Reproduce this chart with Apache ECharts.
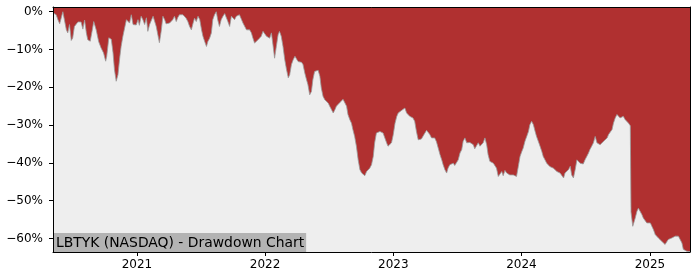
<!DOCTYPE html>
<html><head><meta charset="utf-8">
<script src="https://cdn.jsdelivr.net/npm/echarts@6/dist/echarts.min.js"></script>
<style>html,body{margin:0;padding:0;background:#fff}#c{width:700px;height:280px}</style>
</head><body><div id="c"></div>
<script>
const dates = [
'2020-05-07','2020-05-11','2020-05-16','2020-05-21','2020-05-26','2020-05-30','2020-06-04','2020-06-09','2020-06-14','2020-06-18','2020-06-23','2020-06-28','2020-07-02','2020-07-07','2020-07-12','2020-07-17','2020-07-22','2020-07-26','2020-07-31','2020-08-05','2020-08-10','2020-08-14','2020-08-21','2020-08-27','2020-08-31','2020-09-07','2020-09-14','2020-09-21','2020-09-28','2020-10-04','2020-10-07','2020-10-13','2020-10-20','2020-10-25','2020-10-29','2020-11-03','2020-11-08','2020-11-13','2020-11-17','2020-11-22','2020-11-27','2020-12-02','2020-12-06','2020-12-11','2020-12-16','2020-12-21','2020-12-24','2020-12-30',
'2021-01-04','2021-01-08','2021-01-13','2021-01-18','2021-01-23','2021-01-28','2021-02-01','2021-02-06','2021-02-11','2021-02-16','2021-02-20','2021-02-25','2021-03-02','2021-03-06','2021-03-11','2021-03-16','2021-03-21','2021-03-25','2021-03-30','2021-04-04','2021-04-09','2021-04-13','2021-04-18','2021-04-23','2021-04-27','2021-05-02','2021-05-07','2021-05-12','2021-05-17','2021-05-21','2021-05-26','2021-05-31','2021-06-05','2021-06-10','2021-06-14','2021-06-19','2021-06-24','2021-06-29','2021-07-04','2021-07-08','2021-07-13','2021-07-18','2021-07-22','2021-07-27','2021-08-01','2021-08-05','2021-08-10','2021-08-15','2021-08-19','2021-08-24','2021-08-29','2021-09-03','2021-09-08','2021-09-12','2021-09-17','2021-09-22','2021-09-27','2021-10-01','2021-10-06','2021-10-11','2021-10-16','2021-10-20','2021-10-25','2021-10-30','2021-11-04','2021-11-09','2021-11-13','2021-11-18','2021-11-23','2021-11-27','2021-12-02','2021-12-07','2021-12-12','2021-12-16','2021-12-21','2021-12-26','2021-12-31',
'2022-01-05','2022-01-09','2022-01-14','2022-01-19','2022-01-24','2022-01-28','2022-02-02','2022-02-07','2022-02-11','2022-02-16','2022-02-21','2022-02-26','2022-03-03','2022-03-08','2022-03-12','2022-03-17','2022-03-22','2022-03-27','2022-04-01','2022-04-05','2022-04-10','2022-04-15','2022-04-19','2022-04-24','2022-04-29','2022-05-03','2022-05-08','2022-05-13','2022-05-17','2022-05-22','2022-05-27','2022-06-01','2022-06-06','2022-06-10','2022-06-15','2022-06-20','2022-06-25','2022-06-30','2022-07-04','2022-07-09','2022-07-14','2022-07-19','2022-07-23','2022-07-28','2022-08-02','2022-08-06','2022-08-11','2022-08-16','2022-08-21','2022-08-25','2022-08-30','2022-09-04','2022-09-08','2022-09-13','2022-09-18','2022-09-23','2022-09-28','2022-10-03','2022-10-07','2022-10-12','2022-10-17','2022-10-21','2022-10-26','2022-10-31','2022-11-05','2022-11-09','2022-11-14','2022-11-19','2022-11-24','2022-11-28','2022-12-03','2022-12-08','2022-12-13','2022-12-17','2022-12-22','2022-12-27',
'2023-01-01','2023-01-06','2023-01-11','2023-01-15','2023-01-20','2023-01-25','2023-01-29','2023-02-03','2023-02-08','2023-02-12','2023-02-17','2023-02-22','2023-02-26','2023-03-03','2023-03-08','2023-03-13','2023-03-17','2023-03-22','2023-03-27','2023-04-01','2023-04-06','2023-04-10','2023-04-15','2023-04-20','2023-04-24','2023-04-29','2023-05-04','2023-05-09','2023-05-14','2023-05-19','2023-05-23','2023-05-28','2023-06-02','2023-06-06','2023-06-11','2023-06-16','2023-06-21','2023-06-25','2023-06-30','2023-07-05','2023-07-10','2023-07-15','2023-07-19','2023-07-24','2023-07-29','2023-08-02','2023-08-07','2023-08-12','2023-08-17','2023-08-21','2023-08-26','2023-08-31','2023-09-05','2023-09-10','2023-09-14','2023-09-19','2023-09-24','2023-09-28','2023-10-03','2023-10-08','2023-10-13','2023-10-18','2023-10-22','2023-10-27','2023-11-01','2023-11-06','2023-11-10','2023-11-15','2023-11-20','2023-11-24','2023-11-29','2023-12-04','2023-12-09','2023-12-14','2023-12-18','2023-12-23','2023-12-28',
'2024-01-02','2024-01-06','2024-01-11','2024-01-16','2024-01-21','2024-01-25','2024-01-30','2024-02-04','2024-02-09','2024-02-13','2024-02-18','2024-02-23','2024-02-28','2024-03-03','2024-03-08','2024-03-13','2024-03-18','2024-03-22','2024-03-27','2024-04-01','2024-04-06','2024-04-11','2024-04-15','2024-04-20','2024-04-25','2024-04-30','2024-05-04','2024-05-09','2024-05-14','2024-05-19','2024-05-23','2024-05-28','2024-06-02','2024-06-07','2024-06-11','2024-06-16','2024-06-21','2024-06-25','2024-06-30','2024-07-05','2024-07-10','2024-07-14','2024-07-19','2024-07-24','2024-07-29','2024-08-03','2024-08-08','2024-08-12','2024-08-17','2024-08-22','2024-08-27','2024-09-01','2024-09-05','2024-09-10','2024-09-15','2024-09-19','2024-09-24','2024-09-29','2024-10-03','2024-10-08','2024-10-13','2024-10-17','2024-10-22','2024-10-27','2024-11-01','2024-11-06','2024-11-07','2024-11-08','2024-11-13','2024-11-17','2024-11-20','2024-11-25','2024-11-29','2024-12-04','2024-12-09','2024-12-13','2024-12-18','2024-12-23','2024-12-28',
'2025-01-02','2025-01-06','2025-01-11','2025-01-16','2025-01-21','2025-01-25','2025-01-30','2025-02-04','2025-02-08','2025-02-13','2025-02-18','2025-02-22','2025-02-27','2025-03-04','2025-03-09','2025-03-14','2025-03-19','2025-03-23','2025-03-28','2025-04-02','2025-04-06','2025-04-11','2025-04-16','2025-04-21','2025-04-25'
];
const drawdown = [
-0.3,-0.8,-0.8,-2.1,-3.2,-3.0,0,0,-4.8,-5.6,-3.4,-7.6,-7.0,-3.9,-3.5,-2.7,-3.0,-2.7,-4.6,-2.2,-5.6,-7.4,-7.8,-4.8,-2.6,-4.8,-7.9,-9.6,-10.9,-13.1,-11.8,-6.9,-7.3,-10.9,-15.3,-18.4,-16.7,-12.2,-9.2,-6.5,-6.2,-2.1,-2.1,-3.0,-0.8,-3.4,-3.6,-3.5,
-2.1,-3.6,-1.2,-2.1,-3.4,-1.6,-5.2,-3.4,-3.4,-1.2,-0.8,-3.9,-4.4,-8.2,-5.2,-1.2,-2.1,-3.2,-3.0,-3.0,-2.6,-2.1,-1.2,-2.6,-1.6,-0.8,-0.8,-0.8,-0.5,-1.7,-2.6,-3.9,-4.8,-3.0,-1.7,-2.6,-1.2,-2.1,-4.8,-6.5,-7.9,-9.2,-7.9,-7.0,-5.6,-2.1,-0.8,0,-2.1,-3.9,-2.1,-1.2,-0.5,-0.8,-2.6,-3.9,-1.2,-1.7,-2.1,-1.2,-1.6,-0.8,-1.2,-3.0,-3.4,-4.8,-5.2,-4.8,-5.6,-6.9,-8.3,-8.1,-7.4,-7.9,-6.5,-5.2,-5.6,
-6.5,-6.1,-7.0,-5.6,-9.2,-12.3,-9.2,-6.1,-5.2,-6.5,-9.2,-12.7,-15.3,-17.5,-16.7,-14.0,-12.7,-11.8,-12.0,-13.2,-13.6,-13.4,-14.0,-16.2,-18.0,-19.3,-22.0,-21.1,-18.0,-15.8,-15.5,-15.5,-17.1,-20.2,-22.4,-23.3,-22.9,-24.2,-25.0,-25.9,-26.8,-25.9,-25.0,-24.6,-24.0,-23.7,-23.2,-22.8,-25.0,-27.2,-28.5,-29.5,-31.2,-33.0,-35.6,-39.2,-41.8,-42.7,-42.3,-43.4,-42.3,-41.8,-41.4,-40.5,-38.3,-34.7,-32.1,-32.1,-31.7,-32.0,-32.1,-33.4,-34.7,-35.6,-35.2,-34.7,
-32.5,-29.5,-27.7,-26.8,-26.8,-26.1,-25.9,-25.5,-26.8,-27.2,-27.7,-28.1,-28.1,-29.0,-31.7,-33.9,-34.4,-33.7,-33.9,-32.1,-31.4,-31.9,-32.5,-33.4,-33.7,-33.4,-34.4,-36.1,-37.8,-39.2,-40.5,-41.8,-42.7,-41.4,-40.5,-41.0,-40.1,-40.7,-40.5,-39.2,-37.4,-36.5,-34.3,-33.4,-34.7,-34.3,-34.6,-34.3,-35.2,-36.3,-36.0,-34.7,-35.6,-35.6,-34.7,-33.4,-35.2,-37.8,-39.6,-39.6,-40.1,-39.6,-41.4,-43.6,-43.2,-42.3,-43.4,-42.0,-42.7,-42.3,-43.2,-42.7,-43.2,-43.4,-43.6,-41.0,-38.3,
-37.0,-36.1,-34.3,-33.0,-31.7,-29.9,-29.0,-29.9,-31.7,-33.0,-34.3,-35.6,-37.0,-38.3,-39.2,-40.1,-40.5,-41.0,-41.0,-41.4,-41.4,-42.3,-41.8,-42.7,-43.2,-44.0,-42.7,-42.3,-41.8,-40.9,-43.2,-44.0,-41.8,-39.2,-39.6,-40.1,-40.5,-40.3,-39.2,-38.3,-37.4,-36.5,-35.6,-34.7,-33.0,-34.7,-35.2,-35.2,-35.2,-34.3,-33.9,-33.4,-32.5,-32.1,-31.2,-29.5,-28.1,-27.2,-27.2,-28.1,-28.1,-27.7,-28.5,-29.0,-29.5,-30.2,-30.5,-53.0,-56.8,-56.4,-54.6,-52.8,-52.0,-52.4,-53.7,-54.6,-55.0,-55.9,-56.4,
-55.9,-56.0,-57.7,-59.0,-59.4,-59.9,-60.3,-60.8,-61.2,-61.6,-61.2,-60.3,-59.9,-59.9,-59.4,-59.4,-59.0,-59.4,-59.9,-61.2,-62.9,-63.4,-63.4,-63.4,-63.5
];
const yTicks = [0, -10, -20, -30, -40, -50, -60];
const xTickDates = ['2021-01-01', '2022-01-01', '2023-01-01', '2024-01-01', '2025-01-01'];
const xTickLabels = ['2021', '2022', '2023', '2024', '2025'];
const titleText = 'LBTYK (NASDAQ) - Drawdown Chart';
const xMinDate = '2020-05-07', xMaxDate = '2025-04-25';
const yMin = -63.6, yMax = 1.25;

const toTs = d => +echarts.time.parse(d);
const chart = echarts.init(document.getElementById('c'), null, {renderer: 'canvas'});
const xTickVals = xTickDates.map(toTs);
const xMin = toTs(xMinDate), xMax = toTs(xMaxDate);
const font = 'DejaVu Sans';
const frameAxis = {show: true, onZero: false, lineStyle: {color: '#000', width: 1}};
chart.setOption({
  animation: false,
  backgroundColor: '#ffffff',
  title: {
    text: titleText, left: 53, bottom: 28,
    backgroundColor: '#b3b3b3', padding: [3, 2, 1, 3],
    textStyle: {fontSize: 13.9, fontWeight: 'normal', color: '#000', fontFamily: font, lineHeight: 15}
  },
  grid: {left: 53, right: 10, top: 7, bottom: 28, show: true, backgroundColor: '#eeeeee', borderWidth: 0},
  xAxis: [{
    type: 'value', min: xMin, max: xMax, z: 10,
    axisLine: frameAxis,
    axisTick: {show: true, length: 4, lineStyle: {color: '#000'}, customValues: xTickVals},
    axisLabel: {show: true, margin: 7, color: '#000', fontSize: 12, fontFamily: font, customValues: xTickVals,
      formatter: v => { const i = xTickVals.indexOf(+v); return i >= 0 ? xTickLabels[i] : ''; }},
    splitLine: {show: false}
  }, {
    type: 'value', min: xMin, max: xMax, position: 'top', z: 10,
    axisLine: frameAxis, axisTick: {show: false}, axisLabel: {show: false}, splitLine: {show: false}
  }],
  yAxis: [{
    type: 'value', min: yMin, max: yMax, z: 10,
    axisLine: frameAxis,
    axisTick: {show: true, length: 4, lineStyle: {color: '#000'}, customValues: yTicks},
    axisLabel: {show: true, margin: 10, color: '#000', fontSize: 12, fontFamily: font, customValues: yTicks,
      formatter: v => (v < 0 ? '\u2212' : '') + Math.abs(Math.round(v)) + '%'},
    splitLine: {show: false}
  }, {
    type: 'value', min: yMin, max: yMax, position: 'right', z: 10,
    axisLine: frameAxis, axisTick: {show: false}, axisLabel: {show: false}, splitLine: {show: false}
  }],
  series: [{
    type: 'line', xAxisIndex: 0, yAxisIndex: 0,
    data: dates.map((d, i) => [toTs(d), drawdown[i]]),
    symbol: 'none', smooth: false,
    lineStyle: {color: '#9a9a9a', width: 0.8},
    areaStyle: {color: '#b03030', opacity: 1, origin: 'end'},
    z: 2
  }]
});
</script></body></html>
